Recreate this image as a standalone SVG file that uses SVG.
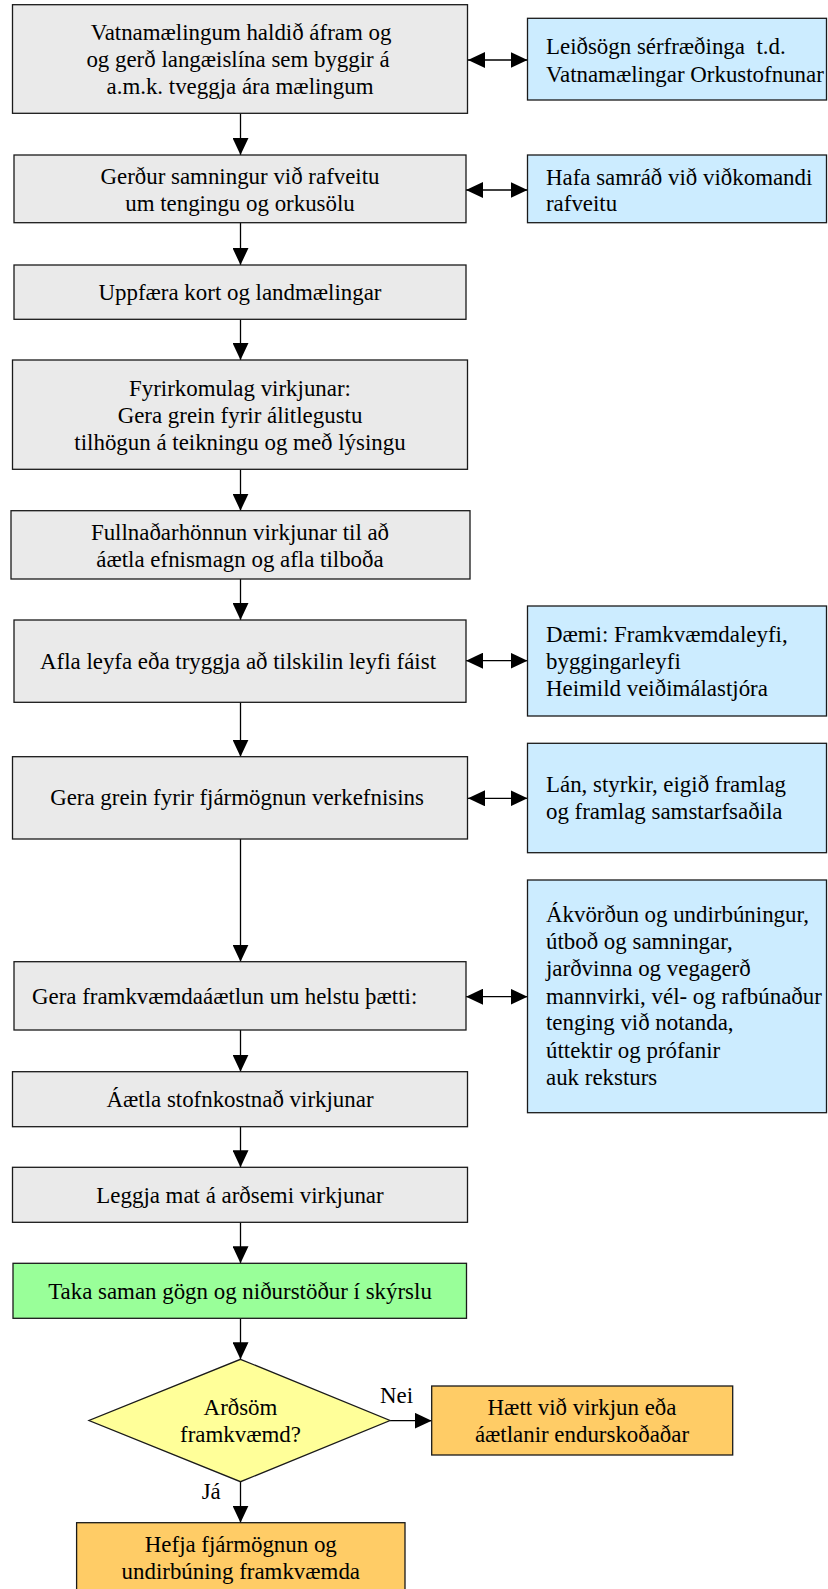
<svg xmlns="http://www.w3.org/2000/svg" width="828" height="1589" viewBox="0 0 828 1589">
<defs>
<style>
.b{stroke:#1a1a1a;stroke-width:1.3}
.g{fill:#eaeaea}
.bl{fill:#ccecff}
.gr{fill:#99ff99}
.ye{fill:#ffff99}
.or{fill:#ffcc66}
text{font-family:"Liberation Serif","Times New Roman",serif;font-size:22.9px;fill:#000;white-space:pre}
.m{text-anchor:middle}
.c{stroke:#000;stroke-width:1.3;fill:none}
</style>
<marker id="ah" markerUnits="userSpaceOnUse" markerWidth="17" markerHeight="16" refX="17" refY="8" orient="auto-start-reverse" viewBox="0 0 17 16">
<path d="M0,0 L17,8 L0,16 z" fill="#000"/>
</marker>
</defs>
<rect width="828" height="1589" fill="#fff"/>

<g id="connectors">
<line class="c" x1="240.5" y1="113.3" x2="240.5" y2="155" marker-end="url(#ah)"/>
<line class="c" x1="240.5" y1="222.7" x2="240.5" y2="265" marker-end="url(#ah)"/>
<line class="c" x1="240.5" y1="319.3" x2="240.5" y2="360" marker-end="url(#ah)"/>
<line class="c" x1="240.5" y1="469.3" x2="240.5" y2="510.7" marker-end="url(#ah)"/>
<line class="c" x1="240.5" y1="579" x2="240.5" y2="620" marker-end="url(#ah)"/>
<line class="c" x1="240.5" y1="702.3" x2="240.5" y2="756.7" marker-end="url(#ah)"/>
<line class="c" x1="240.5" y1="839" x2="240.5" y2="961.7" marker-end="url(#ah)"/>
<line class="c" x1="240.5" y1="1030" x2="240.5" y2="1071.7" marker-end="url(#ah)"/>
<line class="c" x1="240.5" y1="1126.7" x2="240.5" y2="1167.3" marker-end="url(#ah)"/>
<line class="c" x1="240.5" y1="1222.3" x2="240.5" y2="1263.3" marker-end="url(#ah)"/>
<line class="c" x1="240.5" y1="1318.3" x2="240.5" y2="1359.3" marker-end="url(#ah)"/>
<line class="c" x1="240.5" y1="1481.7" x2="240.5" y2="1522.7" marker-end="url(#ah)"/>
<line class="c" x1="390" y1="1420.7" x2="431.7" y2="1420.7" marker-end="url(#ah)"/>
<line class="c" x1="468" y1="60" x2="527.5" y2="60" marker-start="url(#ah)" marker-end="url(#ah)"/>
<line class="c" x1="466" y1="190" x2="527.5" y2="190" marker-start="url(#ah)" marker-end="url(#ah)"/>
<line class="c" x1="466" y1="660.7" x2="527.5" y2="660.7" marker-start="url(#ah)" marker-end="url(#ah)"/>
<line class="c" x1="468" y1="798.3" x2="527.5" y2="798.3" marker-start="url(#ah)" marker-end="url(#ah)"/>
<line class="c" x1="466" y1="996.7" x2="527.5" y2="996.7" marker-start="url(#ah)" marker-end="url(#ah)"/>
<text x="380" y="1402.5">Nei</text>
<text x="201.7" y="1498.5">Já</text>
</g>

<g id="n1"><rect class="b g" x="12.5" y="4.7" width="455" height="108.6"/>
<text class="m" x="241" y="40">Vatnamælingum haldið áfram og</text>
<text class="m" x="238" y="67">og gerð langæislína sem byggir á</text>
<text class="m" x="240" y="94">a.m.k. tveggja ára mælingum</text></g>

<g id="n2"><rect class="b g" x="14" y="155" width="452" height="67.7"/>
<text class="m" x="240" y="183.5">Gerður samningur við rafveitu</text>
<text class="m" x="240" y="210.5">um tengingu og orkusölu</text></g>

<g id="n3"><rect class="b g" x="14" y="265" width="452" height="54.3"/>
<text class="m" x="240" y="300">Uppfæra kort og landmælingar</text></g>

<g id="n4"><rect class="b g" x="12.5" y="360" width="455" height="109.3"/>
<text class="m" x="240" y="396">Fyrirkomulag virkjunar:</text>
<text class="m" x="240" y="423">Gera grein fyrir álitlegustu</text>
<text class="m" x="240" y="450">tilhögun á teikningu og með lýsingu</text></g>

<g id="n5"><rect class="b g" x="11" y="510.7" width="459" height="68.3"/>
<text class="m" x="240" y="540">Fullnaðarhönnun virkjunar til að</text>
<text class="m" x="240" y="567">áætla efnismagn og afla tilboða</text></g>

<g id="n6"><rect class="b g" x="14" y="620" width="452" height="82.3"/>
<text class="m" x="238" y="668.5">Afla leyfa eða tryggja að tilskilin leyfi fáist</text></g>

<g id="n7"><rect class="b g" x="12.5" y="756.7" width="455" height="82.3"/>
<text class="m" x="237" y="805">Gera grein fyrir fjármögnun verkefnisins</text></g>

<g id="n8"><rect class="b g" x="14" y="961.7" width="452" height="68.3"/>
<text x="32" y="1004">Gera framkvæmdaáætlun um helstu þætti:</text></g>

<g id="n9"><rect class="b g" x="12.5" y="1071.7" width="455" height="55"/>
<text class="m" x="240" y="1106.5">Áætla stofnkostnað virkjunar</text></g>

<g id="n10"><rect class="b g" x="12.5" y="1167.3" width="455" height="55"/>
<text class="m" x="240" y="1202.5">Leggja mat á arðsemi virkjunar</text></g>

<g id="n11"><rect class="b gr" x="13" y="1263.3" width="453.5" height="55"/>
<text class="m" x="240" y="1298.5">Taka saman gögn og niðurstöður í skýrslu</text></g>

<g id="n12"><polygon class="b ye" points="240.5,1359.3 390,1420.5 240.5,1481.7 89,1420.5"/>
<text class="m" x="240.5" y="1415">Arðsöm</text>
<text class="m" x="240.5" y="1441.5">framkvæmd?</text></g>

<g id="n13"><rect class="b or" x="431.7" y="1386" width="301" height="69"/>
<text class="m" x="582" y="1415">Hætt við virkjun eða</text>
<text class="m" x="582" y="1441.5">áætlanir endurskoðaðar</text></g>

<g id="n14"><rect class="b or" x="76.6" y="1522.7" width="328.4" height="75"/>
<text class="m" x="240.8" y="1551.5">Hefja fjármögnun og</text>
<text class="m" x="240.8" y="1578.5">undirbúning framkvæmda</text></g>

<g id="s1"><rect class="b bl" x="527.5" y="18.3" width="299" height="81.7"/>
<text x="546" y="54" xml:space="preserve">Leiðsögn sérfræðinga  t.d.</text>
<text x="546" y="81.5">Vatnamælingar Orkustofnunar</text></g>

<g id="s2"><rect class="b bl" x="527.5" y="155" width="299" height="67.7"/>
<text x="546" y="185">Hafa samráð við viðkomandi</text>
<text x="546" y="211">rafveitu</text></g>

<g id="s3"><rect class="b bl" x="527.5" y="606" width="299" height="110"/>
<text x="546" y="642">Dæmi: Framkvæmdaleyfi,</text>
<text x="546" y="668.5">byggingarleyfi</text>
<text x="546" y="696">Heimild veiðimálastjóra</text></g>

<g id="s4"><rect class="b bl" x="527.5" y="743.3" width="299" height="109.4"/>
<text x="546" y="792">Lán, styrkir, eigið framlag</text>
<text x="546" y="818.5">og framlag samstarfsaðila</text></g>

<g id="s5"><rect class="b bl" x="527.5" y="880" width="299" height="232.7"/>
<text x="546" y="922">Ákvörðun og undirbúningur,</text>
<text x="546" y="949">útboð og samningar,</text>
<text x="546" y="976">jarðvinna og vegagerð</text>
<text x="546" y="1003.5">mannvirki, vél- og rafbúnaður</text>
<text x="546" y="1030">tenging við notanda,</text>
<text x="546" y="1057.5">úttektir og prófanir</text>
<text x="546" y="1085">auk reksturs</text></g>
</svg>
